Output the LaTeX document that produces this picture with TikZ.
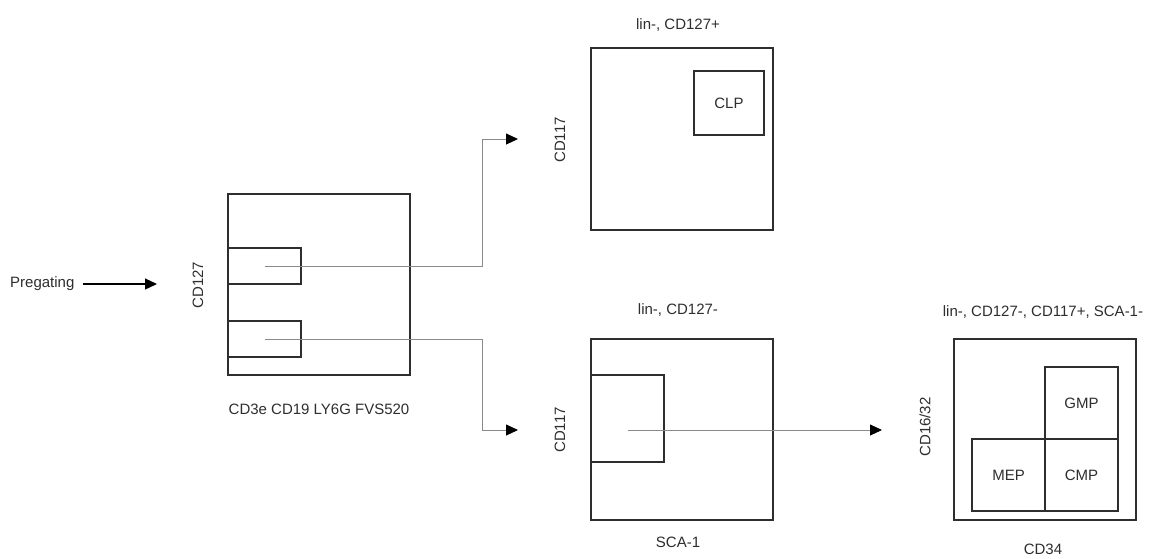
\documentclass[tikz,border=0pt]{standalone}
\usepackage{fontspec}
\setmainfont{Liberation Sans}
\usetikzlibrary{arrows.meta}
\definecolor{boxc}{HTML}{2E2E2E}
\definecolor{linec}{HTML}{8A8A8A}
\begin{document}
\begin{tikzpicture}[x=1pt,y=-1pt,
  plotbox/.style={draw=boxc,line width=1.4pt,inner sep=0pt,outer sep=0pt,minimum width=182pt,minimum height=181pt},
  gatebox/.style={draw=boxc,line width=1.4pt,inner sep=0pt,outer sep=0pt,minimum width=73pt,font=\fontsize{15}{18}\selectfont,text=boxc},
  lbl/.style={inner sep=0pt,font=\fontsize{15}{18}\selectfont,text=boxc},
  tip/.style={-{Triangle[length=12pt,width=11pt,color=black]},draw=linec,line width=0.9pt}]
\useasboundingbox (0,0) rectangle (1151,558);
\fill[white] (0,0) rectangle (1151,558);

% plots
\node[plotbox] (p1) at (319,284.5) {};
\node[plotbox,minimum height=182pt] (p2) at (682,139) {};
\node[plotbox] (p3) at (682,429.5) {};
\node[plotbox] (p4) at (1045,429.5) {};

% gates
\node[gatebox,minimum height=36pt] (g1) at (264.5,266) {};
\node[gatebox,minimum height=36pt] (g2) at (264.5,339) {};
\node[gatebox,minimum width=70pt,minimum height=64pt] (clp) at (729,103) {CLP};
\node[gatebox,minimum height=87pt] (g3) at (627.5,418.5) {};
\node[gatebox,minimum height=72pt] (gmp) at (1081.5,403) {GMP};
\node[gatebox,minimum height=72pt] (mep) at (1008.5,475) {MEP};
\node[gatebox,minimum height=72pt] (cmp) at (1081.5,475) {CMP};

% labels
\node[lbl,anchor=west] (pre) at (10,284) {Pregating};
\node[lbl,rotate=90] (a1) at (198,285) {CD127};
\node[lbl] (b1) at (319,409) {CD3e CD19 LY6G FVS520};
\node[lbl] (t2) at (678,25) {lin-, CD127+};
\node[lbl,rotate=90] (a2) at (560,140) {CD117};
\node[lbl] (t3) at (678,310) {lin-, CD127-};
\node[lbl,rotate=90] (a3) at (560,430) {CD117};
\node[lbl] (b3) at (678,542) {SCA-1};
\node[lbl] (t4) at (1043,312) {lin-, CD127-, CD117+, SCA-1-};
\node[lbl,rotate=90] (a4) at (925,427) {CD16/32};
\node[lbl] (b4) at (1043,549) {CD34};

% connectors
\coordinate (pretip) at (157,284);
\draw[-{Triangle[length=12pt,width=11pt]},draw=black,line width=1.2pt] ([xshift=8pt]pre.east) -- (pretip);

\coordinate (tip1) at (518,139);
\coordinate (tip2) at (518,430);
\coordinate (s3) at (628,430);
\coordinate (tip3) at (882,430);
\draw[tip] (g1.center) -- (482,266) -- (482,139) -- (tip1);
\draw[tip] (g2.center) -- (482,339) -- (482,430) -- (tip2);
\draw[tip] (s3) -- (tip3);
\end{tikzpicture}
\end{document}
